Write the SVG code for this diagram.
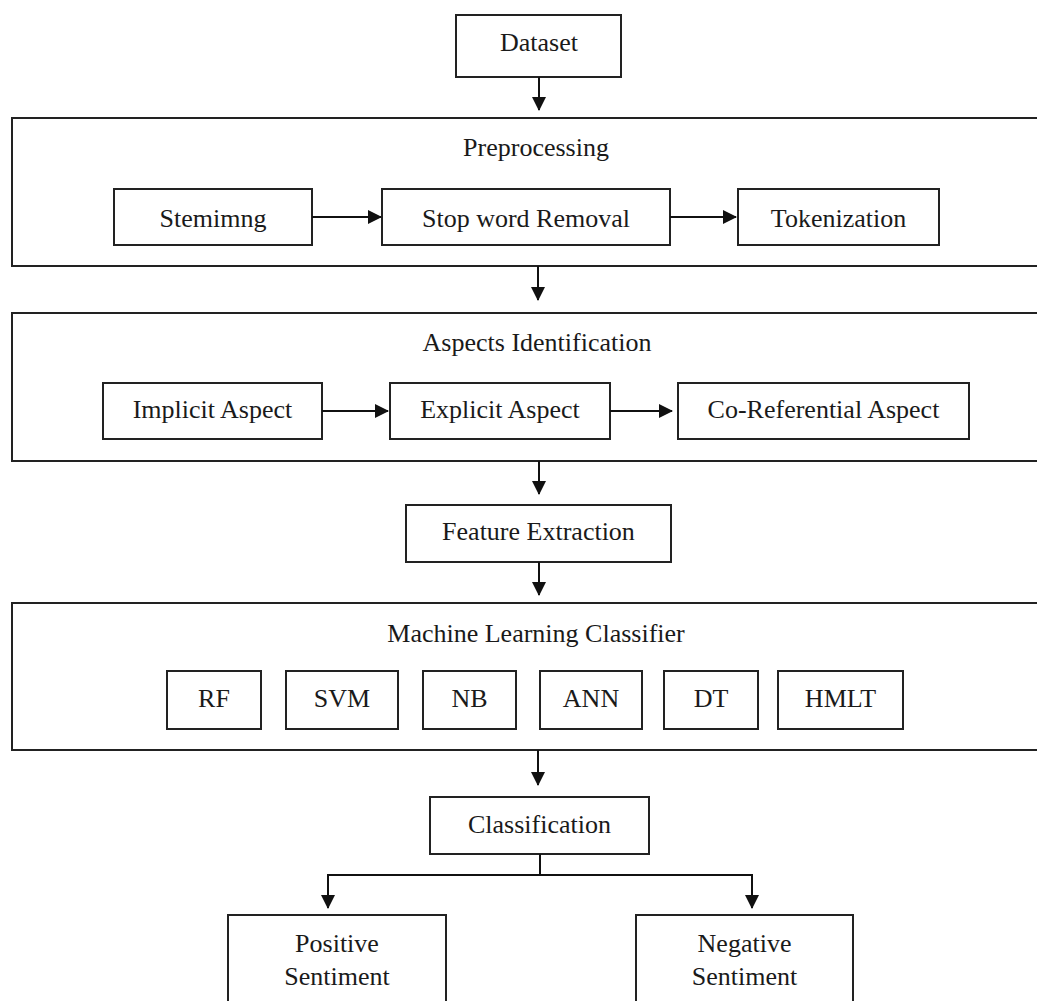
<svg xmlns="http://www.w3.org/2000/svg" width="1037" height="1001" viewBox="0 0 1037 1001">
<defs>
<style>
.box{fill:#fff;stroke:#222;stroke-width:2}
.grp{fill:none;stroke:#222;stroke-width:2}
.t{font-family:"Liberation Serif","Times New Roman",serif;font-size:26px;fill:#1a1a1a;text-anchor:middle}
.c{fill:none;stroke:#111;stroke-width:2}
</style>
<marker id="ah" markerWidth="14" markerHeight="14" refX="13" refY="7" orient="auto" markerUnits="userSpaceOnUse">
<path d="M0,0 L14,7 L0,14 Z" fill="#111"/>
</marker>
</defs>
<rect width="1037" height="1001" fill="#fff"/>

<g id="dataset"><rect class="box" x="456" y="15" width="165" height="62"/><text class="t" x="539" y="51">Dataset</text></g>

<g id="preprocessing"><rect class="grp" x="12" y="118" width="1040" height="148"/><text class="t" x="536" y="156">Preprocessing</text></g>
<g id="stemming"><rect class="box" x="114" y="189" width="198" height="56"/><text class="t" x="213" y="227">Stemimng</text></g>
<g id="stopword"><rect class="box" x="382" y="189" width="288" height="56"/><text class="t" x="526" y="227">Stop word Removal</text></g>
<g id="tokenization"><rect class="box" x="738" y="189" width="201" height="56"/><text class="t" x="838.5" y="227">Tokenization</text></g>

<g id="aspects"><rect class="grp" x="12" y="313" width="1040" height="148"/><text class="t" x="537" y="351">Aspects Identification</text></g>
<g id="implicit"><rect class="box" x="103" y="383" width="219" height="56"/><text class="t" x="212.5" y="418">Implicit Aspect</text></g>
<g id="explicit"><rect class="box" x="390" y="383" width="220" height="56"/><text class="t" x="500" y="418">Explicit Aspect</text></g>
<g id="coref"><rect class="box" x="678" y="383" width="291" height="56"/><text class="t" x="823.5" y="418">Co-Referential Aspect</text></g>

<g id="feature"><rect class="box" x="406" y="505" width="265" height="57"/><text class="t" x="538.5" y="540">Feature Extraction</text></g>

<g id="ml"><rect class="grp" x="12" y="603" width="1040" height="147"/><text class="t" x="536" y="642">Machine Learning Classifier</text></g>
<g id="rf"><rect class="box" x="167" y="671" width="94" height="58"/><text class="t" x="214" y="707">RF</text></g>
<g id="svm"><rect class="box" x="286" y="671" width="112" height="58"/><text class="t" x="342" y="707">SVM</text></g>
<g id="nb"><rect class="box" x="423" y="671" width="93" height="58"/><text class="t" x="469.5" y="707">NB</text></g>
<g id="ann"><rect class="box" x="540" y="671" width="102" height="58"/><text class="t" x="591" y="707">ANN</text></g>
<g id="dt"><rect class="box" x="664" y="671" width="94" height="58"/><text class="t" x="711" y="707">DT</text></g>
<g id="hmlt"><rect class="box" x="778" y="671" width="125" height="58"/><text class="t" x="840.5" y="707">HMLT</text></g>

<g id="classification"><rect class="box" x="430" y="797" width="219" height="57"/><text class="t" x="539.5" y="833">Classification</text></g>
<g id="positive"><rect class="box" x="228" y="915" width="218" height="100"/><text class="t" x="337" y="952">Positive</text><text class="t" x="337" y="985">Sentiment</text></g>
<g id="negative"><rect class="box" x="636" y="915" width="217" height="100"/><text class="t" x="744.5" y="952">Negative</text><text class="t" x="744.5" y="985">Sentiment</text></g>

<g id="connectors">
<line class="c" x1="539" y1="77" x2="539" y2="110" marker-end="url(#ah)"/>
<line class="c" x1="312" y1="217" x2="381" y2="217" marker-end="url(#ah)"/>
<line class="c" x1="670" y1="217" x2="736" y2="217" marker-end="url(#ah)"/>
<line class="c" x1="538" y1="266" x2="538" y2="300" marker-end="url(#ah)"/>
<line class="c" x1="322" y1="411" x2="388" y2="411" marker-end="url(#ah)"/>
<line class="c" x1="610" y1="411" x2="672" y2="411" marker-end="url(#ah)"/>
<line class="c" x1="539" y1="461" x2="539" y2="494" marker-end="url(#ah)"/>
<line class="c" x1="539" y1="562" x2="539" y2="595" marker-end="url(#ah)"/>
<line class="c" x1="538" y1="750" x2="538" y2="785" marker-end="url(#ah)"/>
<path class="c" d="M540,854 V875 H328 V908" marker-end="url(#ah)"/>
<path class="c" d="M540,875 H752 V908" marker-end="url(#ah)"/>
</g>
</svg>
